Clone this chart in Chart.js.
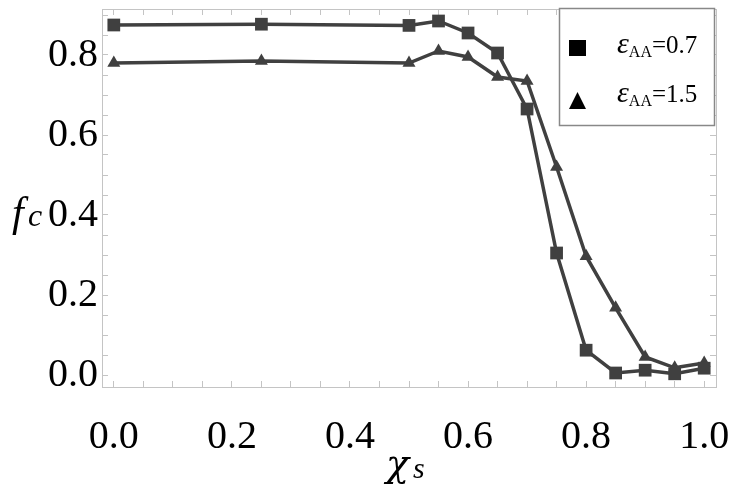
<!DOCTYPE html>
<html>
<head>
<meta charset="utf-8">
<script src="https://cdn.jsdelivr.net/npm/chart.js@4.4.1/dist/chart.umd.min.js"></script>
<style>
  html, body { margin: 0; padding: 0; background: #fff; }
  #wrap { position: relative; width: 733px; height: 494px; }
</style>
</head>
<body>
<div id="wrap"><canvas id="chartCanvas"></canvas></div>
<script>
// values
const chiValues = [0, 0.25, 0.5, 0.55, 0.6, 0.65, 0.7, 0.75, 0.8, 0.85, 0.9, 0.95, 1.0];
const fcEps07 = [0.875, 0.877, 0.874, 0.885, 0.855, 0.805, 0.665, 0.305, 0.062, 0.005, 0.012, 0.003, 0.017];
const fcEps15 = [0.78, 0.785, 0.78, 0.81, 0.795, 0.745, 0.735, 0.52, 0.297, 0.168, 0.045, 0.018, 0.03];
const seriesNames = ["0.7", "1.5"];
const xTickLabels = ["0.0", "0.2", "0.4", "0.6", "0.8", "1.0"];
const yTickLabels = ["0.0", "0.2", "0.4", "0.6", "0.8"];

const lineColor = "#404040";
const frameColor = "#c4c4c4";
const serif = "'Liberation Serif'";

Chart.defaults.font.family = serif;
Chart.defaults.color = "#000";

function points(ys) {
    return chiValues.map((x, i) => ({ x: x, y: ys[i] }));
}

function labelFor(list) {
    return value => {
        const k = Math.round(value * 100);
        return k % 20 === 0 ? (list[k / 20] || "") : "";
    };
}

// fixed box sizes, no label overhang padding
function fixSize(w, h) {
    return s => {
        if (w !== null) s.width = w;
        if (h !== null) s.height = h;
        s.paddingLeft = 0;
        s.paddingRight = 0;
        s.paddingTop = 0;
        s.paddingBottom = 0;
    };
}

const tickGrid = {
    drawOnChartArea: false,
    drawTicks: true,
    tickLength: -6,
    color: frameColor,
    lineWidth: 1
};

// legend + axis titles drawn on the canvas
const extras = {
    id: "extras",
    afterDraw(chart) {
        const ctx = chart.ctx;
        ctx.save();

        // legend box
        ctx.fillStyle = "#fff";
        ctx.fillRect(559, 8, 155, 117);
        ctx.strokeStyle = "#888";
        ctx.lineWidth = 1.5;
        ctx.strokeRect(559.5, 8.5, 155, 117);

        ctx.fillStyle = "#000";
        ctx.fillRect(569, 40, 17, 16);
        ctx.beginPath();
        ctx.moveTo(577.5, 92);
        ctx.lineTo(586, 109);
        ctx.lineTo(569, 109);
        ctx.closePath();
        ctx.fill();

        const rows = [53, 102];
        ctx.textBaseline = "alphabetic";
        rows.forEach((y, i) => {
            let x = 617;
            ctx.font = "italic 30px " + serif;
            ctx.fillText("\u03b5", x, y);
            x += ctx.measureText("\u03b5").width;
            ctx.font = "16px " + serif;
            ctx.fillText("AA", x, y + 4);
            x += ctx.measureText("AA").width;
            ctx.font = "25px " + serif;
            ctx.fillText("=" + seriesNames[i], x, y);
        });

        // y title f_c
        ctx.font = "italic 42px " + serif;
        ctx.fillText("f", 12, 226);
        ctx.font = "italic 32px " + serif;
        ctx.fillText("c", 28, 226);

        // x title chi_s
        ctx.font = "italic 38px 'DejaVu Serif'";
        ctx.fillText("\u03c7", 386, 476);
        ctx.font = "italic 30px " + serif;
        ctx.fillText("s", 413, 478);

        ctx.restore();
    }
};

const tickFont = { family: serif, size: 40 };

const ctx = document.getElementById("chartCanvas").getContext("2d");

new Chart(ctx, {
    type: "scatter",
    data: {
        datasets: [
            {
                label: "eps 0.7",
                data: points(fcEps07),
                showLine: true,
                borderColor: lineColor,
                backgroundColor: lineColor,
                borderWidth: 3.5,
                pointStyle: "rect",
                pointRadius: 9,
                pointBorderWidth: 0
            },
            {
                label: "eps 1.5",
                data: points(fcEps15),
                showLine: true,
                borderColor: lineColor,
                backgroundColor: lineColor,
                borderWidth: 3.5,
                pointStyle: "triangle",
                pointRadius: 7.5,
                pointBorderWidth: 0
            }
        ]
    },
    options: {
        responsive: true,
        maintainAspectRatio: false,
        animation: false,
        layout: { padding: { top: 9, right: 17, left: 0, bottom: 0 } },
        plugins: {
            legend: { display: false },
            tooltip: { enabled: false }
        },
        scales: {
            x: {
                type: "linear",
                position: "bottom",
                min: -0.02,
                max: 1.02,
                afterFit: fixSize(null, 107),
                border: { color: frameColor, width: 1 },
                grid: tickGrid,
                ticks: {
                    stepSize: 0.05,
                    includeBounds: false,
                    autoSkip: false,
                    maxRotation: 0,
                    padding: 32,
                    color: "#000",
                    font: tickFont,
                    callback: labelFor(xTickLabels)
                }
            },
            y: {
                type: "linear",
                position: "left",
                min: -0.03,
                max: 0.915,
                afterFit: fixSize(102, null),
                border: { color: frameColor, width: 1 },
                grid: tickGrid,
                ticks: {
                    stepSize: 0.05,
                    includeBounds: false,
                    autoSkip: false,
                    padding: 10,
                    color: "#000",
                    font: tickFont,
                    callback: labelFor(yTickLabels)
                }
            },
            xTop: {
                type: "linear",
                position: "top",
                min: -0.02,
                max: 1.02,
                afterFit: fixSize(null, 0),
                border: { color: frameColor, width: 1 },
                grid: tickGrid,
                ticks: { stepSize: 0.05, includeBounds: false, autoSkip: false, display: false }
            },
            yRight: {
                type: "linear",
                position: "right",
                min: -0.03,
                max: 0.915,
                afterFit: fixSize(0, null),
                border: { color: frameColor, width: 1 },
                grid: tickGrid,
                ticks: { stepSize: 0.05, includeBounds: false, autoSkip: false, display: false }
            }
        }
    },
    plugins: [extras]
});
</script>
</body>
</html>
